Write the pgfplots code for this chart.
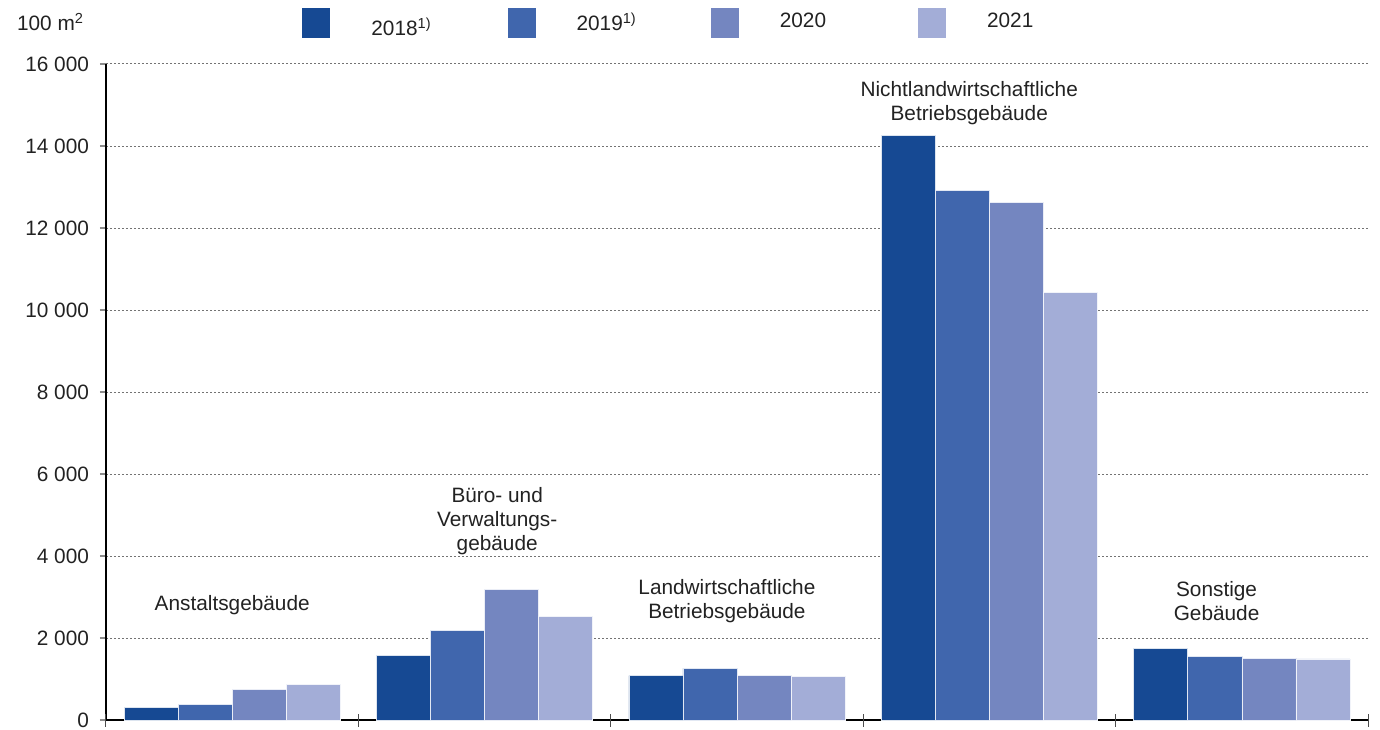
\documentclass[border=0pt]{standalone}
\usepackage{pgfplots}
\pgfplotsset{compat=1.18}
\usepackage{fontspec}
\setmainfont{Liberation Sans}
\definecolor{c18}{RGB}{22,73,147}
\definecolor{c19}{RGB}{64,102,173}
\definecolor{c20}{RGB}{116,134,192}
\definecolor{c21}{RGB}{163,173,215}
\definecolor{txt}{RGB}{34,34,34}
\newcommand{\lbl}{\fontsize{10.4}{12}\selectfont}
\begin{document}
\begin{tikzpicture}
\begin{axis}[
    scale only axis,
    width=631pt, height=328pt,
    xmin=-0.5, xmax=4.5,
    ymin=0, ymax=16000,
    ytick={0,2000,...,16000},
    scaled y ticks=false,
    xtick=\empty,
    extra x ticks={-0.5,0.5,1.5,2.5,3.5,4.5},
    extra x tick labels={},
    extra x tick style={major tick length=6.5pt, tick align=center,
        tick style={black!70, line width=0.5pt}, grid=none},
    axis x line=bottom, axis y line=left,
    axis line style={-, black, line width=0.8pt},
    ymajorgrids,
    grid style={black!55, dash pattern=on 1pt off 1pt, line width=0.5pt},
    y tick style={black!45, line width=0.6pt},
    tick align=outside, major tick length=3pt,
    yticklabel style={font=\lbl, text=txt, xshift=-2pt},
    /pgf/number format/.cd, 1000 sep={\ }, assume math mode=true,
    /pgfplots/.cd,
    legend columns=4,
    legend style={at={(0.1553,1.0625)}, anchor=west, draw=none, fill=none,
        inner sep=0pt, font=\lbl, text=txt,
        /tikz/every odd column/.append style={column sep=20.5pt},
        /tikz/column 2/.style={column sep=38pt},
        /tikz/column 4/.style={column sep=37pt},
        /tikz/column 6/.style={column sep=46pt},
        nodes={inner sep=0pt}},
    legend image code/.code={\fill[#1,draw=none] (0pt,-7.5pt) rectangle (14pt,7.5pt);},
    clip=false,
]
\addplot[ybar, bar width=0.214, bar shift=-0.321, fill=c18, draw=white!85!c18, line width=0.3pt]
    coordinates {(0,310) (1,1577) (2,1081) (3,14268) (4,1756)};
\addplot[ybar, bar width=0.214, bar shift=-0.107, fill=c19, draw=white!85!c19, line width=0.3pt]
    coordinates {(0,390) (1,2187) (2,1260) (3,12919) (4,1545)};
\addplot[ybar, bar width=0.214, bar shift=0.107, fill=c20, draw=white!85!c20, line width=0.3pt]
    coordinates {(0,740) (1,3180) (2,1084) (3,12626) (4,1504)};
\addplot[ybar, bar width=0.214, bar shift=0.321, fill=c21, draw=white!85!c21, line width=0.3pt]
    coordinates {(0,862) (1,2528) (2,1057) (3,10439) (4,1488)};
\legend{\raisebox{-5pt}{2018\textsuperscript{1)}}, 2019\textsuperscript{1)}, \raisebox{1.5pt}{2020}, \raisebox{1.5pt}{2021}}

\node[font=\lbl, text=txt, anchor=west] at ([xshift=-48pt,yshift=21pt]rel axis cs:0,1) {100 m\textsuperscript{2}};
\node[font=\lbl, text=txt, align=center] at (axis cs:0,2805) {Anstaltsgebäude};
\node[font=\lbl, text=txt, align=center] at (axis cs:1.05,4854) {Büro- und\\Verwaltungs-\\gebäude};
\node[font=\lbl, text=txt, align=center] at (axis cs:1.96,2902) {Landwirtschaftliche\\Betriebsgebäude};
\node[font=\lbl, text=txt, align=center] at (axis cs:2.92,15050) {Nichtlandwirtschaftliche\\Betriebsgebäude};
\node[font=\lbl, text=txt, align=center] at (axis cs:3.9,2902) {Sonstige\\Gebäude};
\end{axis}
\pgfresetboundingbox
\path ([shift={(-53pt,-4.5pt)}]current axis.south west) rectangle ([shift={(6pt,32pt)}]current axis.north east);
\end{tikzpicture}
\end{document}
